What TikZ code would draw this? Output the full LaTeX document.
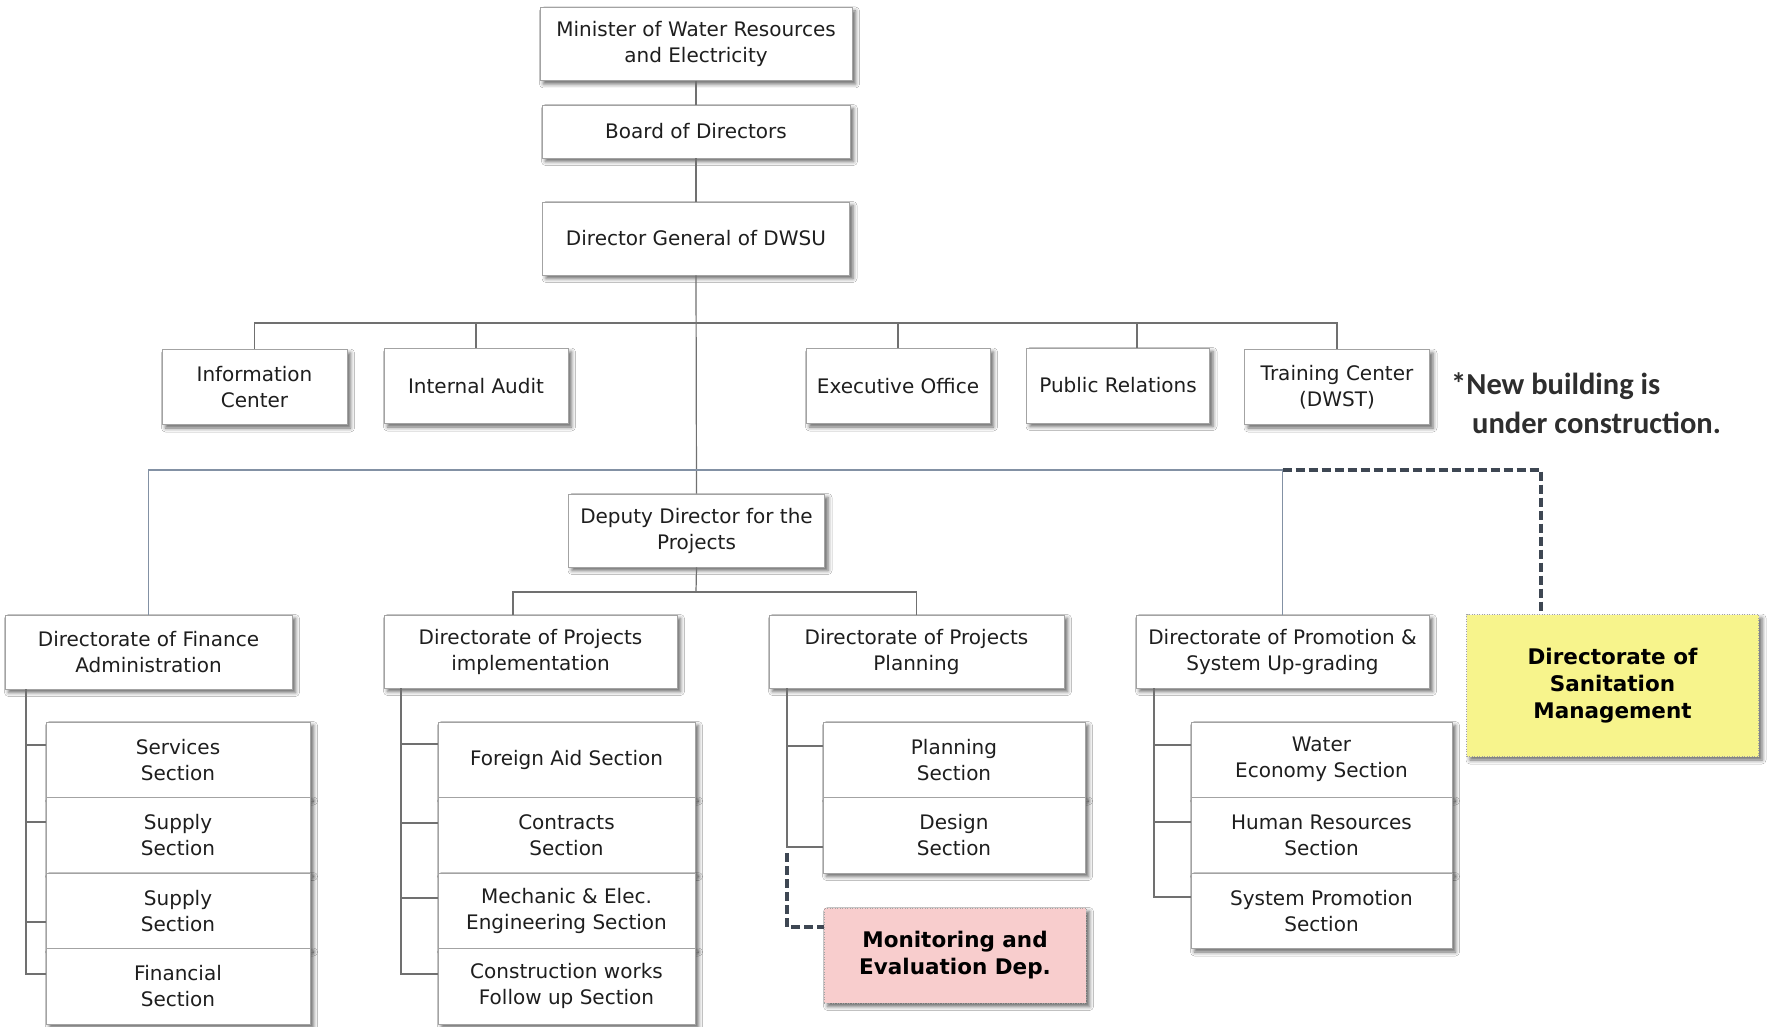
\documentclass[tikz,border=0pt]{standalone}
\usepackage{fontspec}
\setmainfont{DejaVu Sans}
\newfontfamily\notefont{Carlito}
\usetikzlibrary{shadows.blur}
\definecolor{boxline}{HTML}{A3A3A3}
\definecolor{txt}{HTML}{1E1E1E}
\definecolor{conncol}{HTML}{707070}
\definecolor{buscol}{HTML}{8391A4}
\definecolor{dashcol}{HTML}{3E4753}
\definecolor{sanfill}{HTML}{F7F48C}
\definecolor{monfill}{HTML}{F8CDCD}
\definecolor{notecol}{HTML}{2E2E2E}
\tikzset{
  shade box/.style={blur shadow={shadow xshift=3.5pt, shadow yshift=-3.5pt, shadow blur radius=4pt, shadow opacity=60}},
  box/.style={draw=boxline, line width=0.9pt, fill=white, inner sep=0pt, align=center, text=txt,
    font=\fontsize{20}{26}\selectfont, shade box},
  sec/.style={box},
  newbox/.style={draw=boxline, line width=0.8pt, dash pattern=on 1pt off 1.5pt, inner sep=0pt, align=center,
    text=black, font=\bfseries\fontsize{21.5}{27}\selectfont, shade box},
  conn/.style={draw=conncol, line width=1.2pt},
  bus/.style={draw=buscol, line width=1.4pt},
  dashline/.style={draw=dashcol, line width=3.5pt, dash pattern=on 9pt off 4pt},
}
\begin{document}
\begin{tikzpicture}[x=1pt, y=-1pt]
\useasboundingbox (0,0) rectangle (1767,1027);
\fill[white] (0,0) rectangle (1767,1027);

% top chain
\node[box, minimum width=312, minimum height=73] (min) at (696,44) {Minister of Water Resources\\and Electricity};
\node[box, minimum width=308, minimum height=53] (board) at (696,131.5) {Board of Directors};
\node[box, minimum width=307, minimum height=73] (dg) at (696,238.5) {Director General of DWSU};

% staff units
\node[box, minimum width=185, minimum height=75] (info) at (254.5,387) {Information\\Center};
\node[box, minimum width=184, minimum height=75] (audit) at (476,386) {Internal Audit};
\node[box, minimum width=184, minimum height=75] (exec) at (898,386) {Executive Office};
\node[box, minimum width=183, minimum height=75] (pr) at (1118,385.5) {Public Relations};
\node[box, minimum width=185, minimum height=75] (train) at (1337,387) {Training Center\\(DWST)};
\node[anchor=west, align=left, inner sep=0pt, text=notecol,
  font=\notefont\bfseries\fontsize{30.5}{39}\selectfont] (note) at (1451,403)
  {*New building is\\\hspace*{21pt}under construction.};

% deputy
\node[box, minimum width=256, minimum height=73] (ddp) at (696.5,530.5) {Deputy Director for the\\Projects};

% directorates
\node[box, minimum width=287, minimum height=74] (fin) at (148.5,652) {Directorate of Finance\\Administration};
\node[box, minimum width=293, minimum height=73] (impl) at (530.5,651.5) {Directorate of Projects\\implementation};
\node[box, minimum width=295, minimum height=73] (plan) at (916.5,651.5) {Directorate of Projects\\Planning};
\node[box, minimum width=293, minimum height=73] (prom) at (1282.5,651.5) {Directorate of Promotion \&\\System Up-grading};
\node[newbox, fill=sanfill, minimum width=292, minimum height=142] (san) at (1612.5,685.5) {\rule{0pt}{6pt}Directorate of\\Sanitation\\Management};

% finance sections
\node[sec, minimum width=264, minimum height=75.5] (fs1) at (178,759.75) {Services\\Section};
\node[sec, minimum width=264, minimum height=75.5] (fs2) at (178,835.25) {Supply\\Section};
\node[sec, minimum width=264, minimum height=75.5] (fs3) at (178,910.75) {Supply\\Section};
\node[sec, minimum width=264, minimum height=75.5] (fs4) at (178,986.25) {Financial\\Section};

% implementation sections
\node[sec, minimum width=257, minimum height=75.5] (is1) at (566.5,759.75) {Foreign Aid Section};
\node[sec, minimum width=257, minimum height=75.5] (is2) at (566.5,835.25) {Contracts\\Section};
\node[sec, minimum width=257, minimum height=75.5] (is3) at (566.5,910.75) {Mechanic \& Elec.\\Engineering Section};
\node[sec, minimum width=257, minimum height=75.5] (is4) at (566.5,986.25) {Construction works\\Follow up Section};

% planning sections
\node[sec, minimum width=262, minimum height=75.5] (ps1) at (954,759.75) {Planning\\Section};
\node[sec, minimum width=262, minimum height=75.5] (ps2) at (954,835.25) {Design\\Section};
\node[newbox, fill=monfill, minimum width=262, minimum height=95] (mon) at (955,955.5) {Monitoring and\\Evaluation Dep.};

% promotion sections
\node[sec, minimum width=261, minimum height=75.5] (rs1) at (1321.5,759.75) {Water\\Economy Section};
\node[sec, minimum width=261, minimum height=75.5] (rs2) at (1321.5,835.25) {Human Resources\\Section};
\node[sec, minimum width=261, minimum height=75.5] (rs3) at (1321.5,910.75) {System Promotion\\Section};

% ---- connectors ----
\coordinate (busA) at (696,323);
\coordinate (busB) at (696,470);
\coordinate (busC) at (696,592);
\coordinate (sanlink) at (1541,470);

\draw[conn] (min.south) -- (board.north);
\draw[conn] (board.south) -- (dg.north);
\draw[conn] (dg.south) -- (ddp.north);
\draw[conn] (info.north) |- (busA) -| (train.north);
\draw[conn] (audit.north) -- (audit.north |- busA);
\draw[conn] (exec.north) -- (exec.north |- busA);
\draw[conn] ([xshift=19pt]pr.north) -- ([xshift=19pt]pr.north |- busA);

\draw[bus] (fin.north) |- (busB) -| (prom.north);
\draw[dashline] (prom.north |- busB) -| (sanlink |- san.north);

\draw[conn] (ddp.south) -- (busC);
\draw[conn] ([xshift=-17.5pt]impl.north) |- (busC) -| (plan.north);

% finance bracket
\coordinate (finB) at (26,689);
\draw[conn] ([yshift=14.75pt]fs1.west) -| (finB);
\draw[conn] ([yshift=13.25pt]fs2.west) -| (finB);
\draw[conn] ([yshift=-11.25pt]fs3.west) -| (finB);
\draw[conn] ([yshift=12.25pt]fs4.west) -| (finB);

% implementation bracket
\coordinate (impB) at (401,688);
\draw[conn] ([yshift=15.75pt]is1.west) -| (impB);
\draw[conn] ([yshift=12.25pt]is2.west) -| (impB);
\draw[conn] ([yshift=12.75pt]is3.west) -| (impB);
\draw[conn] ([yshift=12.25pt]is4.west) -| (impB);

% planning bracket
\coordinate (plnB) at (787,688);
\draw[conn] ([yshift=13.75pt]ps1.west) -| (plnB);
\draw[conn] ([yshift=-11.75pt]ps2.west) -| (plnB);
\coordinate (mdash) at (787,853);
\draw[dashline] (mdash) |- ([yshift=28.5pt]mon.west);

% promotion bracket
\coordinate (proB) at (1154,688);
\draw[conn] ([yshift=14.75pt]rs1.west) -| (proB);
\draw[conn] ([yshift=13.25pt]rs2.west) -| (proB);
\draw[conn] ([yshift=13.75pt]rs3.west) -| (proB);
\end{tikzpicture}
\end{document}
